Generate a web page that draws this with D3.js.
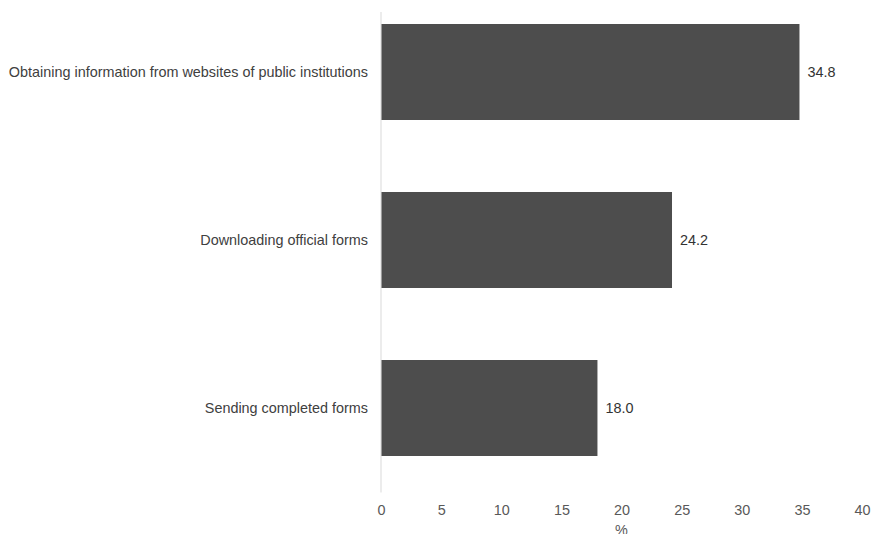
<!DOCTYPE html>
<html>
<head>
<meta charset="utf-8">
<script src="https://cdn.jsdelivr.net/npm/d3@7"></script>
<style>
  html, body { margin: 0; padding: 0; background: #fff; overflow: hidden; }
  svg { display: block; }
  text { font-family: "Liberation Sans", Arial, sans-serif; }
</style>
</head>
<body>
<svg id="chart" width="874" height="534"></svg>
<script>
const categories = [
  "Obtaining information from websites of public institutions",
  "Downloading official forms",
  "Sending completed forms"
];
const values = [34.8, 24.2, 18.0];
const xTicks = [0, 5, 10, 15, 20, 25, 30, 35, 40];
const xTitle = "%";

const svg = d3.select("#chart");
const left = 381, right = 862;
const FS = 14.4;

const x = d3.scaleLinear().domain([0, 40]).range([left, right]);
const y = d3.scaleBand().domain(categories).range([0, 480])
  .paddingInner(72 / 168).paddingOuter(24 / 168);

// vertical axis line
svg.append("line")
  .attr("x1", x(0)).attr("x2", x(0))
  .attr("y1", 12).attr("y2", 492.5)
  .attr("stroke", "#d9d9d9").attr("stroke-width", 1);

// bars
svg.selectAll("rect.bar").data(values).join("rect")
  .attr("class", "bar")
  .attr("x", x(0) + 0.5)
  .attr("y", (d, i) => y(categories[i]))
  .attr("width", d => x(d) - x(0) - 0.5)
  .attr("height", y.bandwidth())
  .attr("fill", "#4d4d4d");

// value labels
svg.selectAll("text.val").data(values).join("text")
  .attr("class", "val")
  .attr("x", d => x(d) + 8)
  .attr("y", (d, i) => y(categories[i]) + y.bandwidth() / 2)
  .attr("dy", "0.35em")
  .attr("font-size", FS)
  .attr("fill", "#333333")
  .text(d => d.toFixed(1));

// category labels
svg.selectAll("text.cat").data(categories).join("text")
  .attr("class", "cat")
  .attr("x", 368)
  .attr("y", d => y(d) + y.bandwidth() / 2)
  .attr("dy", "0.35em")
  .attr("text-anchor", "end")
  .attr("font-size", FS)
  .attr("fill", "#404040")
  .text(d => d);

// x axis
const xAxis = d3.axisBottom(x).tickValues(xTicks).tickSize(0).tickPadding(0);
const gx = svg.append("g").attr("transform", "translate(0,505)").call(xAxis);
gx.select(".domain").remove();
gx.selectAll("text")
  .attr("font-size", FS)
  .attr("font-family", "Liberation Sans, Arial, sans-serif")
  .attr("fill", "#595959");

svg.append("text")
  .attr("x", (left + right) / 2)
  .attr("y", 535)
  .attr("text-anchor", "middle")
  .attr("font-size", FS)
  .attr("fill", "#595959")
  .text(xTitle);
</script>
</body>
</html>
